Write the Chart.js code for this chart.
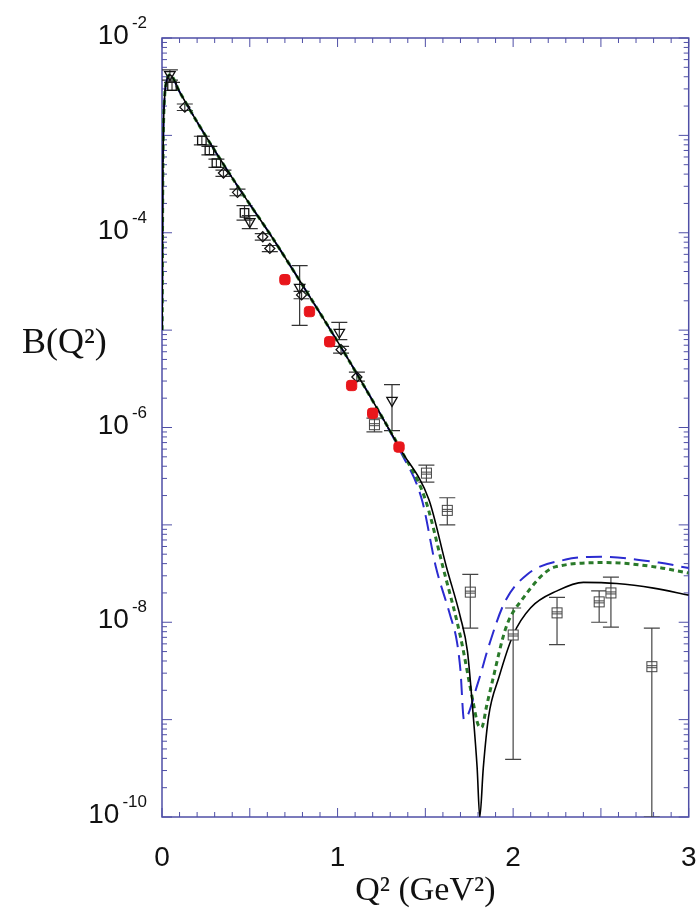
<!DOCTYPE html>
<html>
<head>
<meta charset="utf-8">
<script src="https://cdn.jsdelivr.net/npm/chart.js@4.4.0/dist/chart.umd.min.js"></script>
<style>
    html, body { margin: 0; background: #fff; }
    #wrap { width: 696px; height: 910px; position: relative; }
</style>
</head>
<body>
<div id="wrap"><canvas id="chart"></canvas></div>
<script>
// Theory curves, B(Q^2) vs Q^2 (GeV^2)
const q2Full = [0.001, 0.004, 0.008, 0.015, 0.025, 0.045, 0.1, 0.216, 0.426, 0.625, 0.795, 1.028, 1.24, 1.36, 1.52, 1.62, 1.70, 1.74, 1.77, 1.795, 1.81, 1.83, 1.86, 1.92, 2.0, 2.1, 2.25, 2.4, 2.59, 2.8, 3.0];
const bFull  = [1.0e-5, 2.5e-4, 1.12e-3, 2.5e-3, 3.55e-3, 4.2e-3, 2.8e-3, 1.23e-3, 3.1e-4, 9.1e-5, 3.0e-5, 6.3e-6, 1.41e-6, 5.9e-7, 1.82e-7, 3.7e-8, 1.12e-8, 5.0e-9, 1.26e-9, 3.2e-10, 1.0e-10, 3.2e-10, 1.07e-9, 2.75e-9, 7.4e-9, 1.41e-8, 2.1e-8, 2.57e-8, 2.5e-8, 2.24e-8, 1.9e-8];

const q2Dotted = [0.001, 0.004, 0.008, 0.015, 0.025, 0.045, 0.1, 0.216, 0.426, 0.625, 0.795, 1.028, 1.24, 1.36, 1.50, 1.60, 1.70, 1.77, 1.80, 1.82, 1.85, 1.88, 1.96, 2.05, 2.24, 2.53, 2.81, 3.0];
const bDotted  = [1.0e-5, 2.5e-4, 1.12e-3, 2.5e-3, 3.55e-3, 4.2e-3, 2.8e-3, 1.23e-3, 3.1e-4, 9.1e-5, 3.0e-5, 6.3e-6, 1.41e-6, 5.9e-7, 1.82e-7, 3.7e-8, 7.1e-9, 1.58e-9, 8.9e-10, 8.3e-10, 1.41e-9, 2.4e-9, 8.9e-9, 1.7e-8, 3.7e-8, 4.1e-8, 3.7e-8, 3.2e-8];

const q2Dashed = [0.001, 0.004, 0.008, 0.015, 0.025, 0.045, 0.1, 0.216, 0.426, 0.625, 0.795, 1.028, 1.24, 1.36, 1.48, 1.56, 1.64, 1.68, 1.70, 1.72, 1.80, 1.86, 1.95, 2.08, 2.30, 2.5, 2.83, 3.0];
const bDashed  = [1.0e-5, 2.5e-4, 1.12e-3, 2.5e-3, 3.55e-3, 4.2e-3, 2.8e-3, 1.23e-3, 3.1e-4, 9.1e-5, 3.0e-5, 6.3e-6, 1.41e-6, 5.6e-7, 1.82e-7, 3.7e-8, 1.2e-8, 6.3e-9, 3.2e-9, 1.0e-9, 2.4e-9, 5.6e-9, 1.58e-8, 3.1e-8, 4.4e-8, 4.7e-8, 4.1e-8, 3.6e-8];

// Data sets
const q2Red = [0.70, 0.84, 0.955, 1.08, 1.20, 1.35];
const bRed  = [3.3e-5, 1.55e-5, 7.6e-6, 2.7e-6, 1.4e-6, 6.3e-7];

const q2Diamond = [0.13, 0.35, 0.43, 0.574, 0.614, 0.795, 1.02, 1.11];
const bDiamond  = [1.95e-3, 4.1e-4, 2.6e-4, 9.1e-5, 6.9e-5, 2.3e-5, 6.3e-6, 3.3e-6];
const loDiamond = [1.8e-3, 3.8e-4, 2.4e-4, 8.4e-5, 6.4e-5, 2.1e-5, 5.8e-6, 3.0e-6];
const hiDiamond = [2.1e-3, 4.4e-4, 2.8e-4, 9.8e-5, 7.4e-5, 2.5e-5, 6.8e-6, 3.7e-6];

const q2Square = [0.057, 0.227, 0.27, 0.31, 0.47];
const bSquare  = [3.2e-3, 8.9e-4, 7.0e-4, 5.2e-4, 1.6e-4];
const loSquare = [2.9e-3, 8.0e-4, 6.3e-4, 4.7e-4, 1.35e-4];
const hiSquare = [3.5e-3, 9.8e-4, 7.7e-4, 5.7e-4, 1.9e-4];

const q2Tri = [0.045, 0.50, 0.784, 1.01, 1.31];
const bTri  = [4.2e-3, 1.3e-4, 2.75e-5, 9.5e-6, 1.9e-6];
const loTri = [3.7e-3, 1.1e-4, 1.12e-5, 8.0e-6, 9.3e-7];
const hiTri = [4.7e-3, 1.5e-4, 4.6e-5, 1.2e-5, 2.75e-6];

const q2Cross = [1.21, 1.506, 1.625, 1.756, 2.0, 2.25, 2.49, 2.557, 2.79];
const bCross  = [1.07e-6, 3.4e-7, 1.41e-7, 2.04e-8, 7.4e-9, 1.25e-8, 1.62e-8, 2.0e-8, 3.5e-9];
const loCross = [9.0e-7, 2.75e-7, 1.0e-7, 8.7e-9, 3.9e-10, 5.9e-9, 1.0e-8, 8.9e-9, 1.0e-10];
const hiCross = [1.25e-6, 4.1e-7, 1.9e-7, 3.1e-8, 1.4e-8, 1.8e-8, 2.1e-8, 2.9e-8, 8.7e-9];

// Axis ticks
const xTickValues = [0, 1, 2, 3];
const xTickLabels = ['0', '1', '2', '3'];
const yTickValues = [1e-2, 1e-4, 1e-6, 1e-8, 1e-10];
const yTickExps   = ['-2', '-4', '-6', '-8', '-10'];

const AXIS = '#4f4fa6';
const SANS = '"Liberation Sans", Arial, sans-serif';
const SERIF = '"Liberation Serif", "Times New Roman", serif';

function pts(xs, ys) {
    return xs.map((x, i) => ({ x: x, y: ys[i] }));
}

// crossed-square marker
const crossSq = document.createElement('canvas');
crossSq.width = 13; crossSq.height = 13;
(function () {
    const c = crossSq.getContext('2d');
    c.fillStyle = '#fff';
    c.fillRect(1, 1, 11, 11);
    c.strokeStyle = '#444';
    c.lineWidth = 1;
    c.strokeRect(1.5, 1.5, 10, 10);
    c.beginPath();
    c.moveTo(6.5, 1.5); c.lineTo(6.5, 11.5);
    c.moveTo(1.5, 5.5); c.lineTo(11.5, 5.5);
    c.moveTo(1.5, 7.5); c.lineTo(11.5, 7.5);
    c.stroke();
})();

const errorBars = {
    id: 'errorBars',
    beforeDatasetsDraw(chart) {
        const { ctx, chartArea, scales } = chart;
        ctx.save();
        ctx.beginPath();
        ctx.rect(chartArea.left, chartArea.top, chartArea.width, chartArea.height);
        ctx.clip();
        chart.data.datasets.forEach((ds, i) => {
            if (!ds.errLo) return;
            const meta = chart.getDatasetMeta(i);
            ctx.strokeStyle = ds.errColor;
            ctx.lineWidth = 1.2;
            meta.data.forEach((pt, j) => {
                const top = scales.y.getPixelForValue(ds.errHi[j]);
                const bot = scales.y.getPixelForValue(ds.errLo[j]);
                const w = ds.capWidth / 2;
                ctx.beginPath();
                ctx.moveTo(pt.x, top); ctx.lineTo(pt.x, bot);
                ctx.moveTo(pt.x - w, top); ctx.lineTo(pt.x + w, top);
                ctx.moveTo(pt.x - w, bot); ctx.lineTo(pt.x + w, bot);
                ctx.stroke();
            });
        });
        ctx.restore();
    }
};

const frame = {
    id: 'frame',
    beforeDatasetsDraw(chart) {
        const { ctx, chartArea: a, scales } = chart;
        ctx.save();
        ctx.strokeStyle = AXIS;
        ctx.lineWidth = 1.5;
        ctx.strokeRect(a.left, a.top, a.right - a.left, a.bottom - a.top);

        ctx.lineWidth = 1;
        ctx.beginPath();
        // x ticks every 0.1, longer every 0.5
        for (let k = 0; k <= 30; k++) {
            const px = scales.x.getPixelForValue(k / 10);
            const len = (k % 5 === 0) ? 9 : 5;
            ctx.moveTo(px, a.bottom); ctx.lineTo(px, a.bottom - len);
            ctx.moveTo(px, a.top); ctx.lineTo(px, a.top + len);
        }
        // y ticks per decade with minor ticks
        for (let e = -10; e <= -2; e++) {
            for (let m = 1; m <= 9; m++) {
                if (e === -2 && m > 1) break;
                const py = scales.y.getPixelForValue(m * Math.pow(10, e));
                const len = m === 1 ? 10 : 5;
                ctx.moveTo(a.left, py); ctx.lineTo(a.left + len, py);
                ctx.moveTo(a.right, py); ctx.lineTo(a.right - len, py);
            }
        }
        ctx.stroke();

        // tick labels
        ctx.fillStyle = '#111';
        ctx.textBaseline = 'alphabetic';
        yTickValues.forEach((v, i) => {
            const py = scales.y.getPixelForValue(v);
            ctx.font = '17px ' + SANS;
            const wExp = ctx.measureText(yTickExps[i]).width;
            ctx.font = '28px ' + SANS;
            const wBase = ctx.measureText('10').width;
            const right = a.left - 15;
            ctx.textAlign = 'left';
            ctx.fillText('10', right - wExp - 3 - wBase, py + 6);
            ctx.font = '17px ' + SANS;
            ctx.fillText(yTickExps[i], right - wExp, py - 10);
        });
        ctx.font = '28px ' + SANS;
        ctx.textAlign = 'center';
        xTickValues.forEach((v, i) => {
            ctx.fillText(xTickLabels[i], scales.x.getPixelForValue(v), a.bottom + 49);
        });

        // axis titles
        ctx.font = '34px ' + SERIF;
        ctx.fillText('Q\u00b2 (GeV\u00b2)', (a.left + a.right) / 2, a.bottom + 83);
        ctx.font = '36px ' + SERIF;
        ctx.textAlign = 'left';
        ctx.fillText('B(Q\u00b2)', 22, 353);
        ctx.restore();
    }
};

const errDs = (label, xs, ys, lo, hi, style, extra) => Object.assign({
    label: label,
    data: pts(xs, ys),
    errLo: lo,
    errHi: hi,
    errColor: '#333',
    capWidth: 16,
    pointStyle: style,
    pointRadius: 5,
    pointBorderColor: '#111',
    pointBackgroundColor: 'rgba(255,255,255,0)',
    pointBorderWidth: 1.3,
    showLine: false
}, extra || {});

new Chart(document.getElementById('chart'), {
    type: 'scatter',
    data: {
        datasets: [
            {
                label: 'red',
                data: pts(q2Red, bRed),
                pointStyle: 'rectRounded',
                pointRadius: 6,
                pointBackgroundColor: '#e8161b',
                pointBorderColor: '#e8161b',
                showLine: false
            },
            errDs('diamonds', q2Diamond, bDiamond, loDiamond, hiDiamond, 'rectRot', { pointRadius: 5 }),
            errDs('squares', q2Square, bSquare, loSquare, hiSquare, 'rect', { pointRadius: 6 }),
            errDs('triangles', q2Tri, bTri, loTri, hiTri, 'triangle', { pointRotation: 180, pointRadius: 6 }),
            errDs('crossed', q2Cross, bCross, loCross, hiCross, crossSq, { errColor: '#444', capWidth: 16 }),
            {
                label: 'full',
                data: pts(q2Full, bFull),
                showLine: true,
                borderColor: '#000',
                borderWidth: 1.6,
                pointRadius: 0,
                cubicInterpolationMode: 'monotone'
            },
            {
                label: 'dotted',
                data: pts(q2Dotted, bDotted),
                showLine: true,
                borderColor: '#2a7a2a',
                borderWidth: 3,
                borderDash: [5, 4],
                pointRadius: 0,
                cubicInterpolationMode: 'monotone'
            },
            {
                label: 'dashed',
                data: pts(q2Dashed, bDashed),
                showLine: true,
                borderColor: '#2b2bd0',
                borderWidth: 2,
                borderDash: [16, 8],
                pointRadius: 0,
                cubicInterpolationMode: 'monotone'
            }
        ]
    },
    options: {
        responsive: true,
        maintainAspectRatio: false,
        animation: false,
        layout: { padding: { left: 162, right: 6, top: 38, bottom: 93 } },
        plugins: { legend: { display: false }, tooltip: { enabled: false } },
        scales: {
            x: { type: 'linear', min: 0, max: 3, display: false },
            y: { type: 'logarithmic', min: 1e-10, max: 1e-2, display: false }
        }
    },
    plugins: [frame, errorBars]
});
</script>
</body>
</html>
